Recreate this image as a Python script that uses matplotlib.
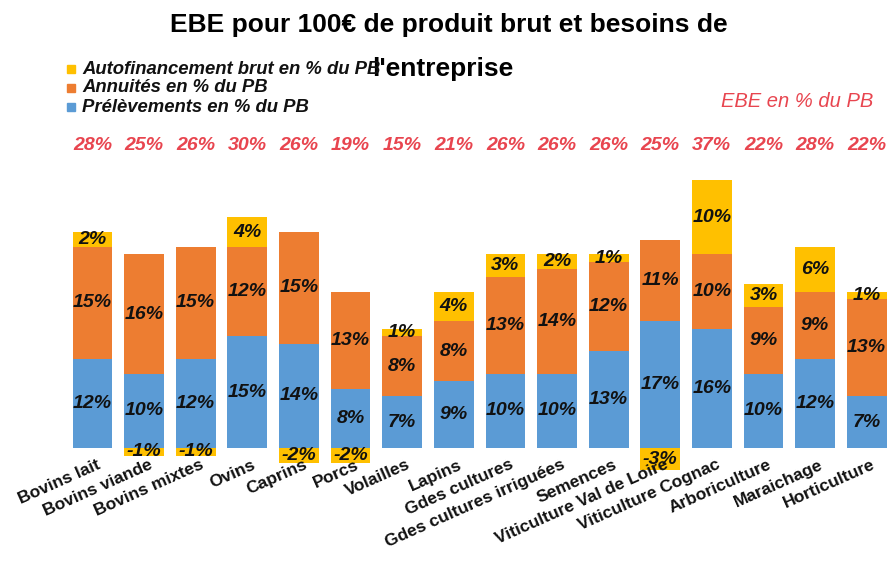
import matplotlib
matplotlib.use('Agg')
import matplotlib.pyplot as plt
import matplotlib.transforms as mtransforms
from matplotlib.patches import Rectangle

# Données
categories = ['Bovins lait', 'Bovins viande', 'Bovins mixtes', 'Ovins', 'Caprins', 'Porcs',
              'Volailles', 'Lapins', 'Gdes cultures', 'Gdes cultures irriguées', 'Semences',
              'Viticulture Val de Loire', 'Viticulture Cognac', 'Arboriculture',
              'Maraichage', 'Horticulture']
prelevements = [12, 10, 12, 15, 14, 8, 7, 9, 10, 10, 13, 17, 16, 10, 12, 7]
annuites = [15, 16, 15, 12, 15, 13, 8, 8, 13, 14, 12, 11, 10, 9, 9, 13]
autofinancement = [2, -1, -1, 4, -2, -2, 1, 4, 3, 2, 1, -3, 10, 3, 6, 1]
ebe = [28, 25, 26, 30, 26, 19, 15, 21, 26, 26, 26, 25, 37, 22, 28, 22]

legend_labels = ['Autofinancement brut en % du PB', 'Annuités en % du PB',
                 'Prélèvements en % du PB']

BLUE = '#5B9BD5'
ORANGE = '#ED7D31'
YELLOW = '#FFC000'
RED = '#E8454F'

W, H = 891, 571
plt.rcParams['font.family'] = ['Liberation Sans', 'DejaVu Sans']

fig = plt.figure(figsize=(W / 100, H / 100), dpi=100)
ax = fig.add_axes([66.7 / W, 0.163, 1 - 66.7 / W, 0.574])

x = list(range(len(categories)))
w = 0.77
ax.bar(x, prelevements, w, color=BLUE)
ax.bar(x, annuites, w, bottom=prelevements, color=ORANGE)
auto_bottom = [p + a if f >= 0 else 0 for p, a, f in zip(prelevements, annuites, autofinancement)]
ax.bar(x, autofinancement, w, bottom=auto_bottom, color=YELLOW)

# étiquettes de données
lab = dict(fontsize=14, fontweight='bold', fontstyle='italic', ha='center', va='center',
           color='#111111')
for i in x:
    ax.text(i, prelevements[i] / 2, f'{prelevements[i]}%', **lab)
    ax.text(i, prelevements[i] + annuites[i] / 2, f'{annuites[i]}%', **lab)
    ax.text(i, auto_bottom[i] + autofinancement[i] / 2, f'{autofinancement[i]}%', **lab)

# EBE en % du PB au-dessus des barres
trans = mtransforms.blended_transform_factory(ax.transData, fig.transFigure)
for i in x:
    ax.text(i, 1 - 145 / H, f'{ebe[i]}%', transform=trans, fontsize=14, fontweight='bold',
            fontstyle='italic', color=RED, ha='center', va='center')
fig.text(873 / W, 1 - 101.5 / H, 'EBE en % du PB', fontsize=14.5, fontstyle='italic',
         color=RED, ha='right', va='center')

ax.set_xlim(-0.5, 15.47)
ax.set_ylim(-4, 40)
ax.set_xticks([])
ax.set_yticks([])
for s in ax.spines.values():
    s.set_visible(False)

# noms des catégories, inclinés
for i, cat in enumerate(categories):
    ax.text(i + 0.08, -1.2, cat, rotation=24, rotation_mode='anchor', ha='right', va='top',
            fontsize=12.5, fontweight='bold', color='#111111')

# titre sur deux lignes, interligne large comme dans l'original
fig.text(449 / W, 1 - 32 / H, "EBE pour 100€ de produit brut et besoins de",
         ha='center', va='baseline', fontsize=19, fontweight='bold')
fig.text(443 / W, 1 - 76 / H, "l'entreprise",
         ha='center', va='baseline', fontsize=19, fontweight='bold')

# légende dessinée à la main (lignes serrées comme dans l'original)
legend_colors = [YELLOW, ORANGE, BLUE]
for k, (txt, col) in enumerate(zip(legend_labels, legend_colors)):
    yc = 69 + 19 * k
    fig.patches.append(Rectangle((67 / W, 1 - (yc + 4) / H), 8 / W, 8 / H, color=col,
                                 transform=fig.transFigure, figure=fig))
    fig.text(82 / W, 1 - yc / H, txt, ha='left', va='center', fontsize=13.3,
             fontweight='bold', fontstyle='italic', color='#111111')

fig.savefig('out.png', dpi=100)
